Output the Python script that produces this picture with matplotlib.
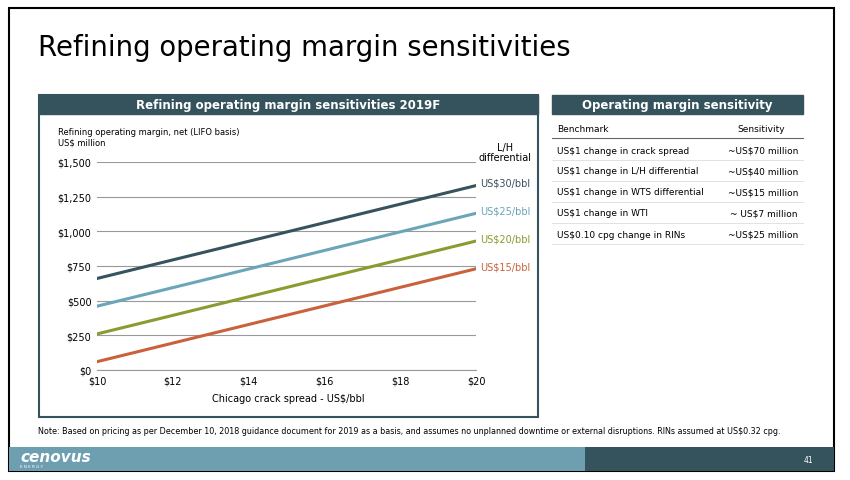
import matplotlib
matplotlib.use("Agg")
import matplotlib.pyplot as plt
from matplotlib.patches import Rectangle

W, H = 850, 481
crack = [10, 20]
series = ["US$30/bbl", "US$25/bbl", "US$20/bbl", "US$15/bbl"]
values = [[660, 1330], [460, 1130], [260, 930], [60, 730]]
colors = ["#36535E", "#6AA5BA", "#8B9B2F", "#C9623A"]
yticks = [0, 250, 500, 750, 1000, 1250, 1500]
ylabels = ["$0", "$250", "$500", "$750", "$1,000", "$1,250", "$1,500"]
xticks = [10, 12, 14, 16, 18, 20]
xlabels = ["$10", "$12", "$14", "$16", "$18", "$20"]
bench = ["US$1 change in crack spread", "US$1 change in L/H differential",
         "US$1 change in WTS differential", "US$1 change in WTI",
         "US$0.10 cpg change in RINs"]
sens = ["~US$70 million", "~US$40 million", "~US$15 million", "~ US$7 million", "~US$25 million"]

DARK = "#34535D"
fig = plt.figure(figsize=(8.5, 4.81), dpi=100)
plt.rcParams['font.family'] = ['DejaVu Sans']

def fx(x): return x / W
def fy(y): return 1 - y / H
def rect(x0, y0, x1, y1, **kw):
    fig.patches.append(Rectangle((fx(x0), fy(y1)), fx(x1) - fx(x0), fy(y0) - fy(y1),
                                 transform=fig.transFigure, **kw))
def txt(x, y, s, **kw):
    fig.text(fx(x), fy(y), s, **kw)

rect(9, 9, 834, 472, fill=False, ec="black", lw=1.5)
txt(38, 48, "Refining operating margin sensitivities", fontsize=19.8, va="center")
# left panel
rect(39, 96, 538, 418, fill=False, ec=DARK, lw=1.5)
rect(39, 96, 538, 115, fc=DARK, ec=DARK)
txt(288, 105.5, "Refining operating margin sensitivities 2019F", fontsize=8.5, color="white",
    ha="center", va="center", weight="bold")
txt(58, 133, "Refining operating margin, net (LIFO basis)", fontsize=6, va="center")
txt(58, 143, "US$ million", fontsize=6, va="center")
txt(505, 148, "L/H", fontsize=7, ha="center", va="center")
txt(505, 158, "differential", fontsize=7, ha="center", va="center")
txt(288, 399, "Chicago crack spread - US$/bbl", fontsize=7, ha="center", va="center")

ax = fig.add_axes([fx(97), fy(371), fx(476) - fx(97), fy(163) - fy(371)])
for s, v, c in zip(series, values, colors):
    ax.plot(crack, v, color=c, lw=2.2)
    ax.text(20.1, v[1] + 20, s, color=c, fontsize=7, va="center")
ax.set_xlim(10, 20)
ax.set_ylim(0, 1500)
ax.set_yticks(yticks, ylabels, fontsize=7)
ax.set_xticks(xticks, xlabels, fontsize=7)
ax.grid(axis="y", color="#999999", lw=0.8)
ax.tick_params(length=0, pad=4)
for sp in ["top", "right", "left"]:
    ax.spines[sp].set_visible(False)
ax.spines["bottom"].set_color("#999999")
ax.set_axisbelow(True)

# right table
rect(552, 96, 803, 115, fc=DARK, ec=DARK)
txt(677, 105.5, "Operating margin sensitivity", fontsize=8.5, color="white",
    ha="center", va="center", weight="bold")
txt(557, 130, "Benchmark", fontsize=6.5, va="center")
txt(785, 130, "Sensitivity", fontsize=6.5, va="center", ha="right")
fig.add_artist(plt.Line2D([fx(552), fx(803)], [fy(139), fy(139)], color="#666666", lw=0.8))
for i, (b, s) in enumerate(zip(bench, sens)):
    y = 151 + i * 21
    txt(557, y, b, fontsize=6.5, va="center")
    txt(798, y, s, fontsize=6.5, va="center", ha="right")
    fig.add_artist(plt.Line2D([fx(552), fx(803)], [fy(y + 10), fy(y + 10)], color="#DDDDDD", lw=0.6))

txt(38, 432, "Note: Based on pricing as per December 10, 2018 guidance document for 2019 as a basis, and assumes no unplanned downtime or external disruptions. RINs assumed at US$0.32 cpg.",
    fontsize=5.8, va="center")
rect(9, 448, 585, 472, fc="#6E9FB0", ec="none")
rect(585, 448, 834, 472, fc=DARK, ec="none")
txt(20, 458, "cenovus", fontsize=11, color="white", weight="bold", style="italic", va="center")
txt(20, 467, "E N E R G Y", fontsize=3, color="white", va="center")
txt(808, 461, "41", fontsize=5.5, color="white", va="center", ha="center")
fig.savefig("out.png", dpi=100)
